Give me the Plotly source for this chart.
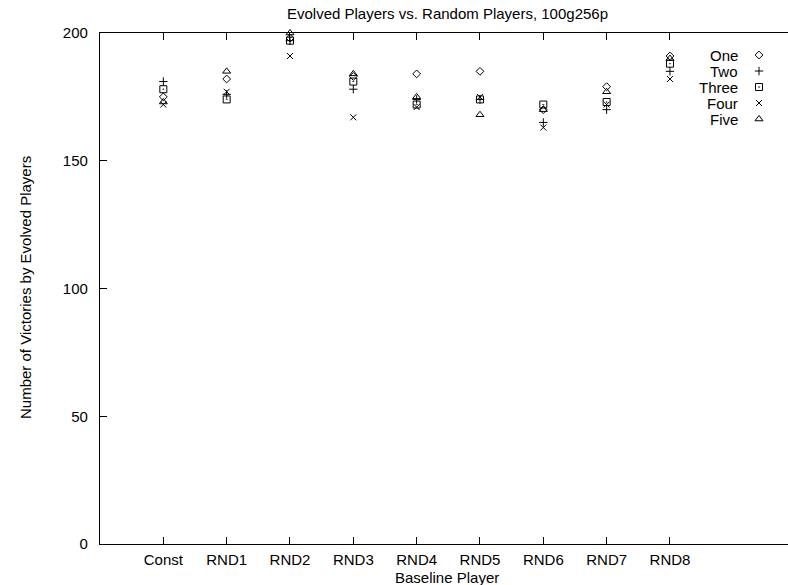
import plotly.graph_objects as go

# ---- data ----
categories = ["Const", "RND1", "RND2", "RND3", "RND4", "RND5", "RND6", "RND7", "RND8"]
series_names = ["One", "Two", "Three", "Four", "Five"]
one = [175, 182, 198, 183, 184, 185, 170, 179, 191]
two = [181, 176, 197, 178, 174, 174, 165, 170, 185]
three = [178, 174, 197, 181, 172, 174, 172, 173, 188]
four = [172, 177, 191, 167, 171, 175, 163, 172, 182]
five = [173, 185, 200, 184, 175, 168, 170, 177, 190]
y_ticks = [0, 50, 100, 150, 200]

# ---- layout constants ----
W, H = 788, 585
L, R, T, B = 100, 0, 33, 41
FONT = "Liberation Sans, Arial, Helvetica, sans-serif"
FS = 15


def px2paper(x, y):
    return (x - L) / (W - L - R), (H - B - y) / (H - T - B)


symbols = ["diamond-open", "cross-thin-open", "square-open-dot", "x-thin-open", "triangle-up-open"]
sizes = [6, 6, 7, 6, 7]
values = [one, two, three, four, five]
xpos = list(range(1, len(categories) + 1))

fig = go.Figure()
for name, vals, sym, sz in zip(series_names, values, symbols, sizes):
    fig.add_trace(go.Scatter(
        x=xpos, y=vals, mode="markers", name=name, showlegend=False,
        marker=dict(symbol=sym, size=sz, color="black", line=dict(width=1, color="black")),
        cliponaxis=False,
    ))

# manual gnuplot-style legend (text left, symbol right) on a pixel helper axis
leg_text_x, leg_sym_x, leg_y0, leg_dy = 740, 759, 55, 16
for i, (name, sym, sz) in enumerate(zip(series_names, symbols, sizes)):
    yy = leg_y0 + i * leg_dy
    fig.add_trace(go.Scatter(
        x=[leg_sym_x], y=[yy], xaxis="x2", yaxis="y2", mode="markers", showlegend=False,
        marker=dict(symbol=sym, size=sz, color="black", line=dict(width=1, color="black")),
        hoverinfo="skip", cliponaxis=False,
    ))
    fig.add_annotation(x=leg_text_x, y=yy, xref="x2", yref="y2", text=name, showarrow=False,
                       xanchor="right", yanchor="middle", font=dict(family=FONT, size=FS, color="black"))

tx, ty = px2paper(447, 13)
fig.add_annotation(x=tx, y=ty, xref="paper", yref="paper", text="Evolved Players vs. Random Players, 100g256p",
                   showarrow=False, xanchor="center", yanchor="middle",
                   font=dict(family=FONT, size=FS, color="black"))
bx, by = px2paper(447, 577)
fig.add_annotation(x=bx, y=by, xref="paper", yref="paper", text="Baseline Player",
                   showarrow=False, xanchor="center", yanchor="middle",
                   font=dict(family=FONT, size=FS, color="black"))
lx, ly = px2paper(25, 288)
fig.add_annotation(x=lx, y=ly, xref="paper", yref="paper", text="Number of Victories by Evolved Players",
                   showarrow=False, xanchor="center", yanchor="middle", textangle=-90,
                   font=dict(family=FONT, size=FS, color="black"))

fig.update_layout(
    width=W, height=H,
    margin=dict(l=L, r=R, t=T, b=B, pad=0),
    plot_bgcolor="white", paper_bgcolor="white",
    font=dict(family=FONT, size=FS, color="black"),
    showlegend=False,
    xaxis=dict(
        range=[0, (W - L - R) / 63.33], tickmode="array", tickvals=xpos, ticktext=categories,
        ticks="inside", ticklen=7, tickcolor="black", tickwidth=1,
        showline=True, linecolor="black", linewidth=1.3, mirror="ticks",
        showgrid=False, zeroline=False, ticklabelstandoff=2,
    ),
    yaxis=dict(
        range=[0, 200], tickmode="array", tickvals=y_ticks,
        ticks="inside", ticklen=7, tickcolor="black", tickwidth=1,
        showline=True, linecolor="black", linewidth=1.3, mirror=False,
        showgrid=False, zeroline=False, ticklabelstandoff=8,
    ),
    xaxis2=dict(range=[L, W - R], overlaying="x", anchor="y2", visible=False, fixedrange=True),
    yaxis2=dict(range=[H - B, T], overlaying="y", anchor="x2", visible=False, fixedrange=True),
)

fig.write_html("out.html")
